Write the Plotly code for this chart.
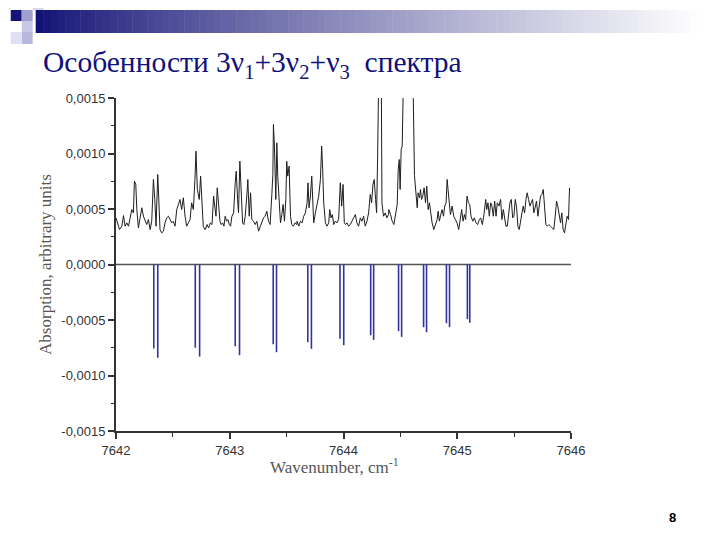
import plotly.graph_objects as go

# ---------------- data ----------------
# observed spectrum (wavenumber, cm-1) and absorption in units of 1e-4
obs_wn = [
    7642.000, 7642.007, 7642.031, 7642.051, 7642.066, 7642.080, 7642.095, 7642.110, 7642.124, 7642.139,
    7642.153, 7642.162, 7642.174, 7642.183, 7642.197, 7642.212, 7642.227, 7642.241, 7642.256, 7642.270,
    7642.285, 7642.300, 7642.314, 7642.329, 7642.341, 7642.352, 7642.367, 7642.379, 7642.387, 7642.402,
    7642.417, 7642.431, 7642.446, 7642.461, 7642.475, 7642.490, 7642.504, 7642.519, 7642.534, 7642.548,
    7642.563, 7642.577, 7642.592, 7642.607, 7642.621, 7642.636, 7642.651, 7642.665, 7642.680, 7642.694,
    7642.703, 7642.715, 7642.732, 7642.744, 7642.756, 7642.767, 7642.782,
    7642.785, 7642.800, 7642.814, 7642.829, 7642.844, 7642.858, 7642.867, 7642.879, 7642.890, 7642.902,
    7642.914, 7642.925, 7642.937, 7642.949, 7642.960, 7642.972, 7642.984, 7642.996, 7643.007, 7643.019,
    7643.034, 7643.048, 7643.057, 7643.069, 7643.077, 7643.089, 7643.101, 7643.113, 7643.124, 7643.136,
    7643.151, 7643.159, 7643.171, 7643.183, 7643.194, 7643.209, 7643.224, 7643.238, 7643.253, 7643.268,
    7643.282, 7643.297, 7643.311, 7643.326, 7643.341, 7643.355, 7643.370, 7643.379, 7643.384, 7643.393,
    7643.405, 7643.414, 7643.422, 7643.434, 7643.446, 7643.458, 7643.469, 7643.481, 7643.493, 7643.501,
    7643.510, 7643.522, 7643.534, 7643.545, 7643.560, 7643.574, 7643.589,
    7643.592, 7643.607, 7643.621, 7643.636, 7643.650, 7643.665, 7643.680, 7643.688, 7643.697, 7643.709,
    7643.721, 7643.729, 7643.738, 7643.753, 7643.767, 7643.782, 7643.797, 7643.808, 7643.817, 7643.826,
    7643.841, 7643.855, 7643.870, 7643.879, 7643.890, 7643.902, 7643.914, 7643.928, 7643.943, 7643.957,
    7643.972, 7643.984, 7643.996, 7644.007, 7644.019, 7644.031, 7644.045, 7644.060, 7644.074, 7644.089,
    7644.104, 7644.118, 7644.133, 7644.148, 7644.162, 7644.177, 7644.191, 7644.206, 7644.221, 7644.235,
    7644.247, 7644.259, 7644.270, 7644.282, 7644.291, 7644.300, 7644.306, 7644.326, 7644.338, 7644.352,
    7644.367, 7644.381, 7644.396,
    7644.399, 7644.414, 7644.428, 7644.443, 7644.457, 7644.472, 7644.481, 7644.490, 7644.498, 7644.507,
    7644.516, 7644.525, 7644.534, 7644.569, 7644.604, 7644.612, 7644.624, 7644.639, 7644.648, 7644.656,
    7644.668, 7644.677, 7644.686, 7644.697, 7644.709, 7644.721, 7644.732, 7644.744, 7644.756, 7644.767,
    7644.779, 7644.794, 7644.808, 7644.823, 7644.832, 7644.843, 7644.855, 7644.867, 7644.879, 7644.890,
    7644.902, 7644.911, 7644.919, 7644.931, 7644.940, 7644.955, 7644.969, 7644.984, 7644.998, 7645.013,
    7645.028, 7645.039, 7645.051, 7645.063, 7645.074, 7645.086, 7645.098, 7645.110, 7645.121, 7645.136,
    7645.150, 7645.165, 7645.180, 7645.194, 7645.206,
    7645.221, 7645.235, 7645.250, 7645.259, 7645.270, 7645.282, 7645.294, 7645.305, 7645.317, 7645.329,
    7645.341, 7645.352, 7645.367, 7645.381, 7645.393, 7645.405, 7645.417, 7645.428, 7645.440, 7645.452,
    7645.463, 7645.475, 7645.487, 7645.498, 7645.510, 7645.522, 7645.533, 7645.545, 7645.557, 7645.569,
    7645.580, 7645.592, 7645.604, 7645.615, 7645.627, 7645.639, 7645.650, 7645.662, 7645.674, 7645.685,
    7645.697, 7645.709, 7645.721, 7645.732, 7645.744, 7645.756, 7645.767, 7645.779, 7645.791, 7645.805,
    7645.820, 7645.835, 7645.849, 7645.861, 7645.873, 7645.884, 7645.896, 7645.908, 7645.919, 7645.931,
    7645.943, 7645.954, 7645.966, 7645.978, 7645.987,
]
obs_abs_e4 = [
    4.20, 3.90, 3.15, 3.45, 4.41, 3.45, 3.75, 3.45, 4.35, 4.95,
    4.65, 7.51, 7.21, 4.95, 3.30, 4.35, 5.11, 4.35, 3.90, 3.60,
    4.05, 3.15, 3.90, 7.66, 5.86, 3.45, 8.11, 5.86, 3.15, 2.85,
    3.00, 3.75, 4.20, 4.35, 4.05, 3.75, 3.90, 3.45, 4.95, 5.41,
    5.86, 4.95, 6.01, 4.35, 3.45, 3.75, 4.05, 5.56, 4.95, 7.66,
    10.21, 6.76, 5.86, 7.96, 5.86, 3.45, 3.15,
    3.15, 3.60, 3.30, 3.75, 3.60, 6.16, 5.41, 4.35, 6.91, 5.56,
    3.90, 3.60, 3.75, 3.45, 4.35, 3.90, 4.05, 3.60, 3.45, 4.35,
    4.65, 7.36, 8.41, 5.86, 4.65, 9.31, 5.56, 3.75, 3.60, 4.35,
    6.31, 7.66, 4.35, 6.46, 4.05, 3.90, 3.60, 3.90, 3.00, 3.45,
    3.75, 4.20, 4.35, 4.80, 3.90, 3.60, 6.31, 8.11, 12.61, 10.66,
    5.86, 10.96, 7.96, 5.56, 3.75, 4.50, 5.41, 3.90, 5.86, 9.31,
    7.96, 8.86, 4.35, 3.60, 3.45, 3.75, 3.60,
    3.90, 3.45, 3.90, 3.75, 4.35, 4.65, 5.56, 7.36, 5.11, 6.16,
    7.96, 5.26, 3.75, 4.65, 5.26, 6.16, 7.66, 10.66, 8.56, 5.56,
    3.75, 3.45, 3.75, 4.95, 4.20, 4.50, 3.60, 3.90, 3.75, 4.05,
    7.36, 5.26, 7.21, 3.75, 3.60, 3.75, 3.45, 3.60, 3.90, 4.20,
    4.50, 3.75, 3.45, 4.20, 3.90, 4.35, 3.45, 3.90, 4.65, 6.31,
    5.56, 7.21, 7.66, 5.86, 4.65, 9.76, 30.0, 30.0, 5.56, 4.35,
    4.65, 4.20, 4.50,
    4.95, 4.50, 3.90, 3.60, 4.50, 5.41, 8.56, 9.46, 6.76, 10.36,
    10.66, 16.0, 30.0, 40.0, 30.0, 16.0, 8.00, 5.56, 5.11, 6.46,
    6.01, 6.76, 5.86, 6.16, 6.91, 5.56, 7.06, 4.95, 5.56, 4.65,
    3.75, 3.15, 3.60, 4.05, 4.80, 3.90, 4.50, 4.95, 4.35, 5.26,
    5.56, 7.66, 6.76, 5.56, 4.50, 5.26, 4.35, 4.05, 3.75, 3.15,
    4.35, 4.95, 3.90, 4.50, 4.05, 6.16, 5.56, 5.41, 4.35, 3.90,
    4.20, 3.75, 3.60, 4.05, 4.20,
    3.60, 4.50, 5.86, 4.95, 5.56, 4.35, 5.56, 5.26, 4.35, 5.71,
    4.35, 5.56, 5.26, 5.86, 4.05, 4.95, 3.90, 3.45, 3.45, 4.35,
    5.56, 5.86, 4.20, 4.35, 5.86, 5.11, 3.45, 3.15, 4.05, 4.65,
    5.26, 4.65, 5.86, 6.46, 5.86, 5.26, 5.56, 5.86, 4.65, 5.26,
    5.71, 4.35, 5.26, 6.16, 6.31, 6.76, 5.26, 3.60, 3.45, 3.60,
    3.45, 3.30, 3.15, 4.35, 5.71, 5.26, 4.35, 3.75, 4.65, 3.15,
    2.85, 3.75, 4.35, 4.05, 6.91,
]

# calculated stick spectrum (negative intensities, units of 1e-4)
calc_wn = [7642.332, 7642.367, 7642.697, 7642.735, 7643.048, 7643.086, 7643.382, 7643.411,
           7643.686, 7643.718, 7643.969, 7644.002, 7644.239, 7644.265, 7644.484, 7644.511,
           7644.704, 7644.730, 7644.905, 7644.932, 7645.089, 7645.110]
calc_int_e4 = [-7.57, -8.40, -7.50, -8.30, -7.36, -8.17, -7.18, -7.90,
               -7.00, -7.60, -6.70, -7.27, -6.37, -6.79, -6.00, -6.52,
               -5.65, -6.10, -5.29, -5.65, -4.93, -5.25]

y_tickvals = [0.0015, 0.0010, 0.0005, 0.0, -0.0005, -0.0010, -0.0015]
y_ticktext = ["0,0015", "0,0010", "0,0005", "0,0000", "-0,0005", "-0,0010", "-0,0015"]
x_tickvals = [7642, 7643, 7644, 7645, 7646]

# ---------------- figure ----------------
obs_abs = [v * 1e-4 for v in obs_abs_e4]
stick_x, stick_y = [], []
for w, v in zip(calc_wn, calc_int_e4):
    stick_x += [w, w, None]
    stick_y += [0.0, v * 1e-4, None]

W, H = 720, 540
OFF = 8  # page body margin
# plot area in page pixels
PL, PR, PT, PB = 115.5, 571.5, 98, 431
L, T = PL - OFF, PT - OFF
R, B = W - (PR - OFF), H - (PB - OFF)
PW, PH = W - L - R, H - T - B


def px(xp):
    """page x pixel -> paper coordinate"""
    return (xp - OFF - L) / PW


def py(yp):
    """page y pixel -> paper coordinate"""
    return 1 - (yp - OFF - T) / PH


fig = go.Figure()
fig.add_trace(go.Scatter(x=stick_x, y=stick_y, mode="lines",
                         line=dict(color="#3232a0", width=1.6), hoverinfo="skip"))
fig.add_trace(go.Scatter(x=obs_wn, y=obs_abs, mode="lines",
                         line=dict(color="#1e1e1e", width=1)))

shapes = []
# zero line
shapes.append(dict(type="line", xref="x", yref="y", x0=7642, x1=7646, y0=0, y1=0,
                   line=dict(color="#555555", width=1.6), layer="below"))
# header gradient bar
n = 90
x_start, x_end = 35, 705
c0 = (18, 18, 118)
c1 = (255, 255, 255)
for i in range(n):
    t = i / (n - 1)
    tt = t ** 0.85
    col = tuple(int(round(c0[k] + (c1[k] - c0[k]) * tt)) for k in range(3))
    xa = x_start + (x_end - x_start) * i / n
    xb = x_start + (x_end - x_start) * (i + 1) / n + 0.5
    shapes.append(dict(type="rect", xref="paper", yref="paper",
                       x0=px(xa), x1=px(xb), y0=py(33), y1=py(10),
                       fillcolor="rgb(%d,%d,%d)" % col, line=dict(width=0), layer="below"))
# top-left squares
squares = [
    (10, 10, 21, 21, "#141478"),
    (21, 10, 32, 21, "#a0a0d0"),
    (32, 0, 43, 10, "#d8d8ee"),
    (8, 0, 10, 10, "#e6e6f4"),
    (21, 21, 32, 32, "#c8c8e6"),
    (21, 32, 32, 44, "#b8b8dc"),
    (10, 32, 21, 44, "#e0e0f2"),
]
for (xa, ya, xb, yb, c) in squares:
    shapes.append(dict(type="rect", xref="paper", yref="paper",
                       x0=px(xa), x1=px(xb), y0=py(yb), y1=py(ya),
                       fillcolor=c, line=dict(width=0), layer="below"))

axis_font = dict(family="Liberation Sans, Arial, sans-serif", size=13, color="#333333")
title_font = dict(family="Liberation Serif, Times New Roman, serif", size=17, color="#555555")

fig.update_layout(
    width=W, height=H,
    margin=dict(l=L, r=R, t=T, b=B),
    paper_bgcolor="white", plot_bgcolor="white",
    showlegend=False,
    shapes=shapes,
    title=dict(
        text="Особенности 3ν<sub>1</sub>+3ν<sub>2</sub>+ν<sub>3</sub>  спектра",
        x=(43 - OFF) / W, xanchor="left", xref="container",
        y=1 - (62 - OFF) / H, yanchor="middle", yref="container",
        font=dict(family="Liberation Serif, Times New Roman, serif", size=29.5, color="#10107a"),
    ),
    xaxis=dict(
        range=[7642, 7646], showgrid=False, zeroline=False,
        showline=True, linecolor="#333333", linewidth=2,
        ticks="outside", ticklen=6, tickwidth=1.5, tickcolor="#333333",
        tickmode="array", tickvals=x_tickvals, ticktext=[str(v) for v in x_tickvals],
        tickfont=axis_font,
        minor=dict(tickmode="array", tickvals=[7642.5, 7643.5, 7644.5, 7645.5],
                   ticks="outside", ticklen=4, tickcolor="#333333", tickwidth=1.2, showgrid=False),
    ),
    yaxis=dict(
        range=[-0.0015, 0.0015], showgrid=False, zeroline=False,
        showline=True, linecolor="#333333", linewidth=2,
        ticks="outside", ticklen=6, tickwidth=1.5, tickcolor="#333333",
        tickmode="array", tickvals=y_tickvals, ticktext=y_ticktext,
        tickfont=axis_font,
        minor=dict(tickmode="array",
                   tickvals=[0.00125, 0.00075, 0.00025, -0.00025, -0.00075, -0.00125],
                   ticks="outside", ticklen=3, tickcolor="#333333", tickwidth=1.2, showgrid=False),
        title=dict(text="Absorption, arbitrary units", font=title_font, standoff=5),
    ),
    annotations=[
        dict(text="Wavenumber, cm<sup>-1</sup>", xref="paper", yref="paper",
             x=px(334), y=py(466), xanchor="center", yanchor="middle", showarrow=False,
             font=title_font),
        dict(text="<b>8</b>", xref="paper", yref="paper", x=px(673), y=py(517),
             xanchor="center", yanchor="middle", showarrow=False,
             font=dict(family="Liberation Sans, Arial, sans-serif", size=13, color="#000000")),
    ],
)

fig.write_html("out.html")
